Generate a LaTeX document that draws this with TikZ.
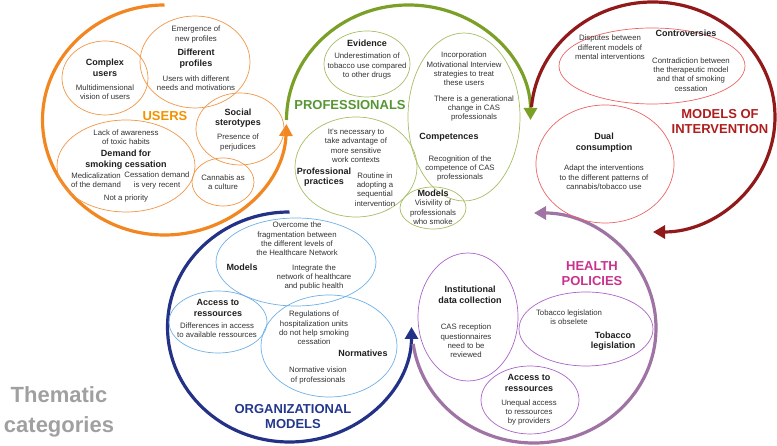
\documentclass[tikz,border=0pt]{standalone}
\usepackage{fontspec}
\setmainfont{Liberation Sans}
\usetikzlibrary{shapes.geometric,arrows.meta,calc}
\definecolor{uarc}{RGB}{242,134,32}
\definecolor{uthin}{RGB}{240,150,70}
\definecolor{ulab}{RGB}{243,146,0}
\definecolor{parc}{RGB}{122,160,40}
\definecolor{pthin}{RGB}{165,190,100}
\definecolor{plab}{RGB}{85,150,50}
\definecolor{rarc}{RGB}{145,25,25}
\definecolor{rthin}{RGB}{235,100,100}
\definecolor{rlab}{RGB}{175,30,30}
\definecolor{barc}{RGB}{35,50,135}
\definecolor{bthin}{RGB}{110,175,230}
\definecolor{blab}{RGB}{35,55,140}
\definecolor{harc}{RGB}{160,115,165}
\definecolor{hthin}{RGB}{170,100,200}
\definecolor{hlab}{RGB}{200,50,140}
\definecolor{txtgrey}{RGB}{50,50,50}
\definecolor{txtdark}{RGB}{30,30,30}
\definecolor{thgrey}{RGB}{160,160,160}
\begin{document}
\begin{tikzpicture}[x=1pt,y=1pt,
 body/.style={align=center,inner sep=0pt,text=txtgrey,font=\fontsize{7.8}{9.3}\selectfont},
 head/.style={align=center,inner sep=0pt,text=txtdark,font=\fontsize{9}{10.6}\selectfont\bfseries},
 cat/.style={align=center,inner sep=0pt,font=\fontsize{13}{15.5}\selectfont\bfseries},
 ell/.style={ellipse,draw,line width=0.7pt,inner sep=0pt},
 bigarc/.style={line width=3.2pt,-{Triangle[length=12pt,width=13pt]}},
]
\useasboundingbox (0,0) rectangle (777,446);

% centres of the five category circles
\coordinate (co) at (164.5,326);
\coordinate (cg) at (408.5,326);
\coordinate (cr) at (653,329);
\coordinate (cb) at (289.5,119);
\coordinate (cp) at (534,118);

% big arrows
\draw[bigarc,uarc] ($(co)+(90:122pt and 115pt)$) arc[start angle=90,end angle=358,x radius=122pt,y radius=115pt];
\draw[bigarc,parc] ($(cg)+(180:122pt and 115pt)$) arc[start angle=180,end angle=0,x radius=122pt,y radius=115pt];
\draw[bigarc,rarc] ($(cr)+(175:122pt and 115pt)$) arc[start angle=175,end angle=-90,x radius=122pt,y radius=115pt];
\draw[bigarc,barc] ($(cb)+(90:122pt and 115pt)$) arc[start angle=90,end angle=360,x radius=122pt,y radius=115pt];
\draw[bigarc,harc] ($(cp)+(188:122pt and 115pt)$) arc[start angle=188,end angle=450,x radius=122pt,y radius=115pt];

% ---------- USERS ----------
\node[ell,draw=uthin,minimum width=86pt,minimum height=74pt] (ucomp) at (105,368) {};
\node[ell,draw=uthin,minimum width=110pt,minimum height=92pt] (udiff) at (195,384) {};
\node[ell,draw=uthin,minimum width=88pt,minimum height=72pt] (usoc) at (240,317) {};
\node[ell,draw=uthin,minimum width=138pt,minimum height=92pt] (udem) at (126,280) {};
\node[ell,draw=uthin,minimum width=62pt,minimum height=48pt] (ucan) at (223,264) {};
\node[cat,text=ulab] (ulab) at (165,330) {USERS};
\node[head] (t1) at (105,378) {Complex\\users};
\node[body] (t2) at (105,353.5) {Multidimensional\\vision of users};
\node[body] (t3) at (196,411.5) {Emergence of\\new profiles};
\node[head] (t4) at (196,387.5) {Different\\profiles};
\node[body] (t5) at (196,362.5) {Users with different\\needs and motivations};
\node[head] (t6) at (238,328) {Social\\sterotypes};
\node[body] (t7) at (238,303.5) {Presence of\\perjudices};
\node[body] (t8) at (126,309) {Lack of awareness\\of toxic habits};
\node[head] (t9) at (126,286.5) {Demand for\\smoking cessation};
\node[body] (t10) at (96,265.5) {Medicalization\\of the demand};
\node[body] (t11) at (157,265.5) {Cessation demand\\is very recent};
\node[body] (t12) at (126,248) {Not a priority};
\node[body] (t13) at (223,263.5) {Cannabis as\\a culture};

% ---------- PROFESSIONALS ----------
\node[ell,draw=pthin,minimum width=86pt,minimum height=66pt] (pev) at (367,382) {};
\node[ell,draw=pthin,minimum width=112pt,minimum height=168pt] (pcomp) at (464,329) {};
\node[ell,draw=pthin,minimum width=122pt,minimum height=100pt] (pprac) at (356,279) {};
\node[ell,draw=pthin,minimum width=66pt,minimum height=42pt] (pmod) at (433,238) {};
\node[cat,text=plab] (plab) at (350,341) {PROFESSIONALS};
\node[head] (p1) at (367,403) {Evidence};
\node[body] (p2) at (367,380) {Underestimation of\\tobacco use compared\\to other drugs};
\node[body] (p3) at (464,377) {Incorporation\\Motivational Interview\\strategies to treat\\these users};
\node[body] (p4) at (474,337.5) {There is a generational\\change in CAS\\professionals};
\node[head] (p5) at (449,309) {Competences};
\node[body] (p6) at (460,277.5) {Recognition of the\\competence of CAS\\professionals};
\node[body] (p7) at (356,300) {It's necessary to\\take advantage of\\more sensitive\\work contexts};
\node[head] (p8) at (324,269) {Professional\\practices};
\node[body] (p9) at (375,256.5) {Routine in\\adopting a\\sequential\\intervention};
\node[head] (p10) at (433,253) {Models};
\node[body] (p11) at (433,233.5) {Visivility of\\professionals\\who smoke};

% ---------- MODELS OF INTERVENTION ----------
\node[ell,draw=rthin,minimum width=186pt,minimum height=76pt] (rcon) at (652,380) {};
\node[ell,draw=rthin,minimum width=138pt,minimum height=118pt] (rdual) at (605,282) {};
\node[cat,text=rlab] (rlab) at (720,324.5) {MODELS OF\\INTERVENTION};
\node[body] (r1) at (610,398.5) {Disputes between\\different models of\\mental interventions};
\node[head] (r2) at (686,413) {Controversies};
\node[body] (r3) at (691,371.5) {Contradiction between\\the therapeutic model\\and that of smoking\\cessation};
\node[head] (r4) at (604,303.5) {Dual\\consumption};
\node[body] (r5) at (604,268.5) {Adapt the interventions\\to the different patterns of\\cannabis/tobacco use};

% ---------- ORGANIZATIONAL MODELS ----------
\node[ell,draw=bthin,minimum width=160pt,minimum height=88pt] (bmod) at (296,184) {};
\node[ell,draw=bthin,minimum width=98pt,minimum height=62pt] (bacc) at (218,124) {};
\node[ell,draw=bthin,minimum width=136pt,minimum height=102pt] (bnorm) at (329,100) {};
\node[cat,text=blab] (blab) at (293,29.5) {ORGANIZATIONAL\\MODELS};
\node[body] (b1) at (297,207) {Overcome the\\fragmentation between\\the different levels of\\the Healthcare Network};
\node[head] (b2) at (242,179) {Models};
\node[body] (b3) at (314,168.5) {Integrate the\\network of healthcare\\and public health};
\node[head] (b4) at (218,138) {Access to\\ressources};
\node[body] (b5) at (217,115.5) {Differences in access\\to available ressources};
\node[body] (b6) at (314,118) {Regulations of\\hospitalization units\\do not help smoking\\cessation};
\node[head] (b7) at (363,93) {Normatives};
\node[body] (b8) at (318,70.5) {Normative vision\\of professionals};

% ---------- HEALTH POLICIES ----------
\node[ell,draw=hthin,minimum width=100pt,minimum height=128pt] (hinst) at (468,129) {};
\node[ell,draw=hthin,minimum width=134pt,minimum height=74pt] (htob) at (586,117) {};
\node[ell,draw=hthin,minimum width=98pt,minimum height=68pt] (hacc) at (530,46) {};
\node[cat,text=hlab] (hlab) at (592,172.5) {HEALTH\\POLICIES};
\node[head] (h1) at (470,151.5) {Institutional\\data collection};
\node[body] (h2) at (466,105) {CAS reception\\questionnaires\\need to be\\reviewed};
\node[body] (h3) at (569,128.5) {Tobacco legislation\\is obselete};
\node[head] (h4) at (613,105) {Tobacco\\legislation};
\node[head] (h5) at (529,63) {Access to\\ressources};
\node[body] (h6) at (529,33.5) {Unequal access\\to ressources\\by providers};

% ---------- title ----------
\node[align=center,inner sep=0pt,text=thgrey,font=\fontsize{22}{30}\selectfont\bfseries] (title) at (59,34) {Thematic\\categories};
\end{tikzpicture}
\end{document}
